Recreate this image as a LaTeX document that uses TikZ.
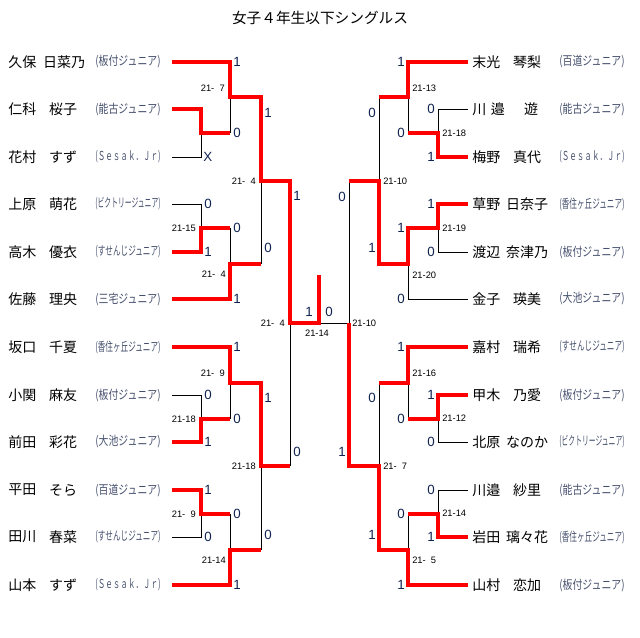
\documentclass[tikz,border=0pt]{standalone}
\usepackage{fontspec}
\usepackage{graphicx}
\setmainfont{Noto Sans CJK JP}
\newfontfamily\digitfont{Liberation Sans}
\definecolor{teamcol}{RGB}{70,80,110}
\definecolor{ptcol}{RGB}{15,35,80}
\newcommand{\team}[1]{\resizebox{49pt}{\height}{#1}}
\newcommand{\sesak}{(Ｓｅｓａｋ．Ｊｒ)}

\tikzset{
 win/.style={red,line width=2.3pt},
 lose/.style={black,line width=0.75pt},
 sei/.style={anchor=west,inner sep=0pt,font=\fontsize{10.5}{11}\selectfont},
 mei/.style={inner sep=0pt,font=\fontsize{10.5}{11}\selectfont},
 club/.style={inner sep=0pt,text=teamcol,font=\fontsize{9.3}{10}\selectfont},
 ptl/.style={anchor=west,inner sep=0pt,text=ptcol,font=\digitfont\fontsize{10}{10}\selectfont},
 ptr/.style={anchor=east,inner sep=0pt,text=ptcol,font=\digitfont\fontsize{10}{10}\selectfont},
 gml/.style={anchor=east,inner sep=0pt,font=\digitfont\fontsize{7}{7}\selectfont},
 gmr/.style={anchor=west,inner sep=0pt,font=\digitfont\fontsize{7}{7}\selectfont}
}

\begin{document}
\begin{tikzpicture}[x=0.75pt,y=-0.75pt]
\useasboundingbox (0,0) rectangle (640,637);
\node[font=\fontsize{11}{12}\selectfont] (title) at (320,18) {女子４年生以下シングルス};

% left block
\node[sei] (sa1) at (8,62) {久保}; \node[mei] (ma1) at (64,62) {日菜乃}; \node[club] (ca1) at (128,62) {\team{(板付ジュニア)}};
\node[sei] (sa2) at (8,109) {仁科}; \node[mei] (ma2) at (63,109) {桜子}; \node[club] (ca2) at (128,109) {\team{(能古ジュニア)}};
\node[sei] (sa3) at (8,157) {花村}; \node[mei] (ma3) at (63,157) {すず}; \node[club] (ca3) at (128,157) {\team{\sesak}};
\node[sei] (sa4) at (8,204) {上原}; \node[mei] (ma4) at (63,204) {萌花}; \node[club] (ca4) at (128,204) {\team{(ビクトリージュニア)}};
\node[sei] (sa5) at (8,252) {高木}; \node[mei] (ma5) at (63,252) {優衣}; \node[club] (ca5) at (128,252) {\team{(すせんじジュニア)}};
\node[sei] (sa6) at (8,299) {佐藤}; \node[mei] (ma6) at (63,299) {理央}; \node[club] (ca6) at (128,299) {\team{(三宅ジュニア)}};
\node[sei] (sa7) at (8,347) {坂口}; \node[mei] (ma7) at (63,347) {千夏}; \node[club] (ca7) at (128,347) {\team{(香住ヶ丘ジュニア)}};
\node[sei] (sa8) at (8,395) {小関}; \node[mei] (ma8) at (63,395) {麻友}; \node[club] (ca8) at (128,395) {\team{(板付ジュニア)}};
\node[sei] (sa9) at (8,442) {前田}; \node[mei] (ma9) at (63,442) {彩花}; \node[club] (ca9) at (128,442) {\team{(大池ジュニア)}};
\node[sei] (sa10) at (8,490) {平田}; \node[mei] (ma10) at (63,490) {そら}; \node[club] (ca10) at (128,490) {\team{(百道ジュニア)}};
\node[sei] (sa11) at (8,537) {田川}; \node[mei] (ma11) at (63,537) {春菜}; \node[club] (ca11) at (128,537) {\team{(すせんじジュニア)}};
\node[sei] (sa12) at (8,585) {山本}; \node[mei] (ma12) at (63,585) {すず}; \node[club] (ca12) at (128,585) {\team{\sesak}};

% right block
\node[sei] (sb1) at (472,62) {末光}; \node[mei] (mb1) at (527,62) {琴梨}; \node[club] (cb1) at (592,62) {\team{(百道ジュニア)}};
\node[sei] (sb2) at (472,109) {川\,\,邉}; \node[mei] (mb2) at (531,109) {遊}; \node[club] (cb2) at (592,109) {\team{(能古ジュニア)}};
\node[sei] (sb3) at (472,157) {梅野}; \node[mei] (mb3) at (527,157) {真代}; \node[club] (cb3) at (592,157) {\team{\sesak}};
\node[sei] (sb4) at (472,204) {草野}; \node[mei] (mb4) at (527,204) {日奈子}; \node[club] (cb4) at (592,204) {\team{(香住ヶ丘ジュニア)}};
\node[sei] (sb5) at (472,252) {渡辺}; \node[mei] (mb5) at (527,252) {奈津乃}; \node[club] (cb5) at (592,252) {\team{(板付ジュニア)}};
\node[sei] (sb6) at (472,299) {金子}; \node[mei] (mb6) at (527,299) {瑛美}; \node[club] (cb6) at (592,299) {\team{(大池ジュニア)}};
\node[sei] (sb7) at (472,347) {嘉村}; \node[mei] (mb7) at (527,347) {瑞希}; \node[club] (cb7) at (592,347) {\team{(すせんじジュニア)}};
\node[sei] (sb8) at (472,395) {甲木}; \node[mei] (mb8) at (527,395) {乃愛}; \node[club] (cb8) at (592,395) {\team{(板付ジュニア)}};
\node[sei] (sb9) at (472,442) {北原}; \node[mei] (mb9) at (527,442) {なのか}; \node[club] (cb9) at (592,442) {\team{(ビクトリージュニア)}};
\node[sei] (sb10) at (472,490) {川邉}; \node[mei] (mb10) at (527,490) {紗里}; \node[club] (cb10) at (592,490) {\team{(能古ジュニア)}};
\node[sei] (sb11) at (472,537) {岩田}; \node[mei] (mb11) at (527,537) {璃々花}; \node[club] (cb11) at (592,537) {\team{(香住ヶ丘ジュニア)}};
\node[sei] (sb12) at (472,585) {山村}; \node[mei] (mb12) at (527,585) {恋加}; \node[club] (cb12) at (592,585) {\team{(板付ジュニア)}};

% losing lines
\draw[lose] (172,157) -- (201,157) -- (201,133); \draw[lose] (230,97) -- (230,133);
\draw[lose] (172,204) -- (201,204) -- (201,228); \draw[lose] (230,228) -- (230,264); \draw[lose] (261,181) -- (261,264);
\draw[lose] (172,395) -- (201,395) -- (201,419); \draw[lose] (230,383) -- (230,419);
\draw[lose] (172,537) -- (201,537) -- (201,514); \draw[lose] (230,514) -- (230,550); \draw[lose] (261,466) -- (261,550);
\draw[lose] (290,323) -- (290,466); \draw[lose] (319,323) -- (349,323) -- (349,181);
\draw[lose] (468,109) -- (438,109) -- (438,133); \draw[lose] (408,97) -- (408,133); \draw[lose] (379,97) -- (379,181);
\draw[lose] (468,252) -- (438,252) -- (438,228); \draw[lose] (468,299) -- (408,299) -- (408,264);
\draw[lose] (468,442) -- (438,442) -- (438,419); \draw[lose] (408,383) -- (408,419); \draw[lose] (379,383) -- (379,466);
\draw[lose] (468,490) -- (438,490) -- (438,514); \draw[lose] (408,514) -- (408,550);

% winning lines
\draw[win] (172,62) -- (230,62) -- (230,97) -- (261,97) -- (261,181) -- (290,181) -- (290,323) -- (319,323) -- (319,275);
\draw[win] (172,109) -- (201,109) -- (201,133) -- (230,133);
\draw[win] (172,252) -- (201,252) -- (201,228) -- (230,228);
\draw[win] (172,299) -- (230,299) -- (230,264) -- (261,264);
\draw[win] (172,347) -- (230,347) -- (230,383) -- (261,383) -- (261,466) -- (290,466);
\draw[win] (172,442) -- (201,442) -- (201,419) -- (230,419);
\draw[win] (172,490) -- (201,490) -- (201,514) -- (230,514);
\draw[win] (172,585) -- (230,585) -- (230,550) -- (261,550);
\draw[win] (468,62) -- (408,62) -- (408,97) -- (379,97);
\draw[win] (468,157) -- (438,157) -- (438,133) -- (408,133);
\draw[win] (468,204) -- (438,204) -- (438,228) -- (408,228) -- (408,264) -- (379,264) -- (379,181) -- (349,181);
\draw[win] (468,347) -- (408,347) -- (408,383) -- (379,383);
\draw[win] (468,395) -- (438,395) -- (438,419) -- (408,419);
\draw[win] (468,537) -- (438,537) -- (438,514) -- (408,514);
\draw[win] (468,585) -- (408,585) -- (408,550) -- (379,550) -- (379,466) -- (349,466) -- (349,323);

% points, left
\node[ptl] (pa3) at (203,157) {X}; \node[ptl] (pa4) at (204,204) {0}; \node[ptl] (pa5) at (204,252) {1};
\node[ptl] (pa8) at (204,395) {0}; \node[ptl] (pa9) at (204,442) {1}; \node[ptl] (pa10) at (204,490) {1}; \node[ptl] (pa11) at (204,537) {0};
\node[ptl] (qa1) at (233,62) {1}; \node[ptl] (qa2) at (233,133) {0}; \node[ptl] (qa3) at (233,228) {0}; \node[ptl] (qa4) at (233,299) {1};
\node[ptl] (qa5) at (233,347) {1}; \node[ptl] (qa6) at (233,419) {0}; \node[ptl] (qa7) at (233,514) {0}; \node[ptl] (qa8) at (233,585) {1};
\node[ptl] (ra1) at (264,113) {1}; \node[ptl] (ra2) at (264,248) {0}; \node[ptl] (ra3) at (264,398) {1}; \node[ptl] (ra4) at (264,535) {0};
\node[ptl] (ua1) at (293,196) {1}; \node[ptl] (ua2) at (293,452) {0};
\node[ptl,anchor=center] (fa) at (309,312) {1};
\node[ptl,anchor=center] (fb) at (329,312) {0};

% points, right
\node[ptr] (pb2) at (435,109) {0}; \node[ptr] (pb3) at (435,157) {1}; \node[ptr] (pb4) at (435,204) {1}; \node[ptr] (pb5) at (435,252) {0};
\node[ptr] (pb8) at (435,395) {1}; \node[ptr] (pb9) at (435,442) {0}; \node[ptr] (pb10) at (435,490) {0}; \node[ptr] (pb11) at (435,537) {1};
\node[ptr] (qb1) at (405,62) {1}; \node[ptr] (qb2) at (405,133) {0}; \node[ptr] (qb3) at (405,228) {1}; \node[ptr] (qb4) at (405,299) {0};
\node[ptr] (qb5) at (405,347) {1}; \node[ptr] (qb6) at (405,419) {0}; \node[ptr] (qb7) at (405,514) {0}; \node[ptr] (qb8) at (405,585) {1};
\node[ptr] (rb1) at (376,113) {0}; \node[ptr] (rb2) at (376,248) {1}; \node[ptr] (rb3) at (376,398) {0}; \node[ptr] (rb4) at (376,535) {1};
\node[ptr] (ub1) at (346,197) {0}; \node[ptr] (ub2) at (346,452) {1};

% game scores
\node[gml] (ga1) at (225,88) {21-\hphantom{0}7}; \node[gml] (ga2) at (196,228) {21-15}; \node[gml] (ga3) at (226,274) {21-\hphantom{0}4};
\node[gml] (ga4) at (256,181) {21-\hphantom{0}4}; \node[gml] (ga5) at (225,373) {21-\hphantom{0}9}; \node[gml] (ga6) at (196,419) {21-18};
\node[gml] (ga7) at (256,466) {21-18}; \node[gml] (ga8) at (196,514) {21-\hphantom{0}9}; \node[gml] (ga9) at (226,560) {21-14};
\node[gml] (ga10) at (285,323) {21-\hphantom{0}4};
\node[gmr] (gb1) at (412,88) {21-13}; \node[gmr] (gb2) at (442,133) {21-18}; \node[gmr] (gb3) at (383,181) {21-10};
\node[gmr] (gb4) at (442,228) {21-19}; \node[gmr] (gb5) at (412,275) {21-20}; \node[gmr] (gb6) at (412,373) {21-16};
\node[gmr] (gb7) at (442,418) {21-12}; \node[gmr] (gb8) at (383,466) {21-\hphantom{0}7}; \node[gmr] (gb9) at (442,513) {21-14};
\node[gmr] (gb10) at (412,560) {21-\hphantom{0}5}; \node[gmr] (gb11) at (352,323) {21-10};
\node[gmr,anchor=center] (gf) at (317,333) {21-14};
\end{tikzpicture}
\end{document}
